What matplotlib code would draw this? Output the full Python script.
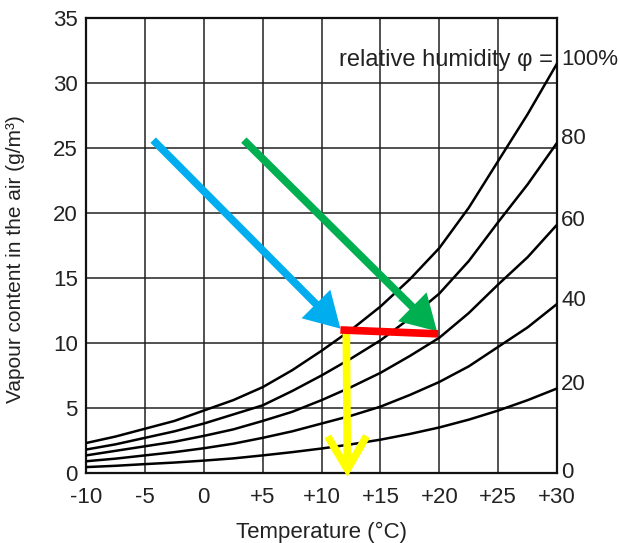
import matplotlib
matplotlib.use('Agg')
import matplotlib.pyplot as plt

plt.rcParams['font.family'] = ['Liberation Sans', 'DejaVu Sans']

# temperature (°C) and vapour content (g/m3) per relative humidity curve
temps = [-10, -7.5, -5, -2.5, 0, 2.5, 5, 7.5, 10, 12.5, 15, 17.5, 20, 22.5, 25, 27.5, 30]
rh_100 = [2.3, 2.8, 3.4, 4.0, 4.8, 5.6, 6.6, 7.9, 9.4, 11.0, 12.8, 14.9, 17.3, 20.4, 24.0, 27.6, 31.5]
rh_80 = [1.8, 2.2, 2.7, 3.2, 3.8, 4.5, 5.2, 6.3, 7.5, 8.8, 10.2, 11.9, 13.8, 16.3, 19.3, 22.2, 25.4]
rh_60 = [1.35, 1.7, 2.05, 2.4, 2.85, 3.35, 4.0, 4.7, 5.6, 6.6, 7.7, 9.0, 10.4, 12.3, 14.5, 16.6, 19.1]
rh_40 = [0.9, 1.1, 1.35, 1.6, 1.9, 2.25, 2.7, 3.2, 3.8, 4.4, 5.1, 6.0, 7.0, 8.2, 9.7, 11.2, 13.0]
rh_20 = [0.45, 0.55, 0.68, 0.8, 0.95, 1.12, 1.35, 1.6, 1.88, 2.2, 2.56, 3.0, 3.5, 4.1, 4.8, 5.6, 6.5]
curves = [rh_100, rh_80, rh_60, rh_40, rh_20]
curve_labels = ['100%', '80', '60', '40', '20']

x_ticks = [-10, -5, 0, 5, 10, 15, 20, 25, 30]
x_ticklabels = ['-10', '-5', '0', '+5', '+10', '+15', '+20', '+25', '+30']
y_ticks = [0, 5, 10, 15, 20, 25, 30, 35]

# arrows: (start, end)
blue_arrow = ((-4.3, 25.6), (11.6, 11.1))
green_arrow = ((3.4, 25.6), (19.8, 10.9))
red_line = ((11.6, 11.0), (19.9, 10.7))
yellow_arrow = ((12.1, 10.9), (12.2, -0.3))

fig = plt.figure(figsize=(6.19, 5.43), dpi=100)
ax = fig.add_axes([0.139, 0.129, 0.761, 0.838])

for y in curves:
    ax.plot(temps, y, color='black', lw=1.8, zorder=3)

ax.set_xlim(-10, 30)
ax.set_ylim(0, 35)
ax.set_xticks(x_ticks)
ax.set_xticklabels(x_ticklabels)
ax.set_yticks(y_ticks)
ax.grid(True, color='#222222', lw=1.1)
ax.tick_params(length=0, labelsize=16, labelcolor='#222222')
ax.tick_params(axis='x', pad=10)
ax.tick_params(axis='y', pad=6)
for s in ax.spines.values():
    s.set_linewidth(1.6)
    s.set_color('#111111')

ax.set_xlabel('Temperature (°C)', fontsize=16, color='#222222', labelpad=10)
ax.set_ylabel('Vapour content in the air (g/m³)', fontsize=15, color='#222222')
ax.yaxis.set_label_coords(-0.13, 0.47)

# right-hand labels at curve ends
for y, lab in zip(curves, curve_labels):
    ax.text(30.35, y[-1] + 0.3, lab, fontsize=16, color='#222222', va='center', ha='left', clip_on=False)
ax.text(30.35, 0, '0', fontsize=16, color='#222222', va='center', ha='left', clip_on=False)
ax.text(29.6, 31.8, 'relative humidity φ =', fontsize=17, color='#222222', va='center', ha='right', zorder=4)

def arrow(start, end, color, style):
    ax.annotate('', xy=end, xytext=start, annotation_clip=False,
                arrowprops=dict(arrowstyle=style, color=color, lw=5.5,
                                shrinkA=0, shrinkB=0, mutation_scale=14,
                                joinstyle='miter', capstyle='butt'),
                zorder=5)

arrow(blue_arrow[0], blue_arrow[1], '#00AEEF', '-|>,head_length=1.2,head_width=0.7')
arrow(green_arrow[0], green_arrow[1], '#00B050', '-|>,head_length=1.2,head_width=0.7')
arrow(yellow_arrow[0], yellow_arrow[1], '#FFFF00', '->,head_length=1.7,head_width=1.0')
ax.plot([red_line[0][0], red_line[1][0]], [red_line[0][1], red_line[1][1]],
        color='#FF0000', lw=5.5, solid_capstyle='butt', zorder=6)

fig.savefig('out.png', dpi=100)
